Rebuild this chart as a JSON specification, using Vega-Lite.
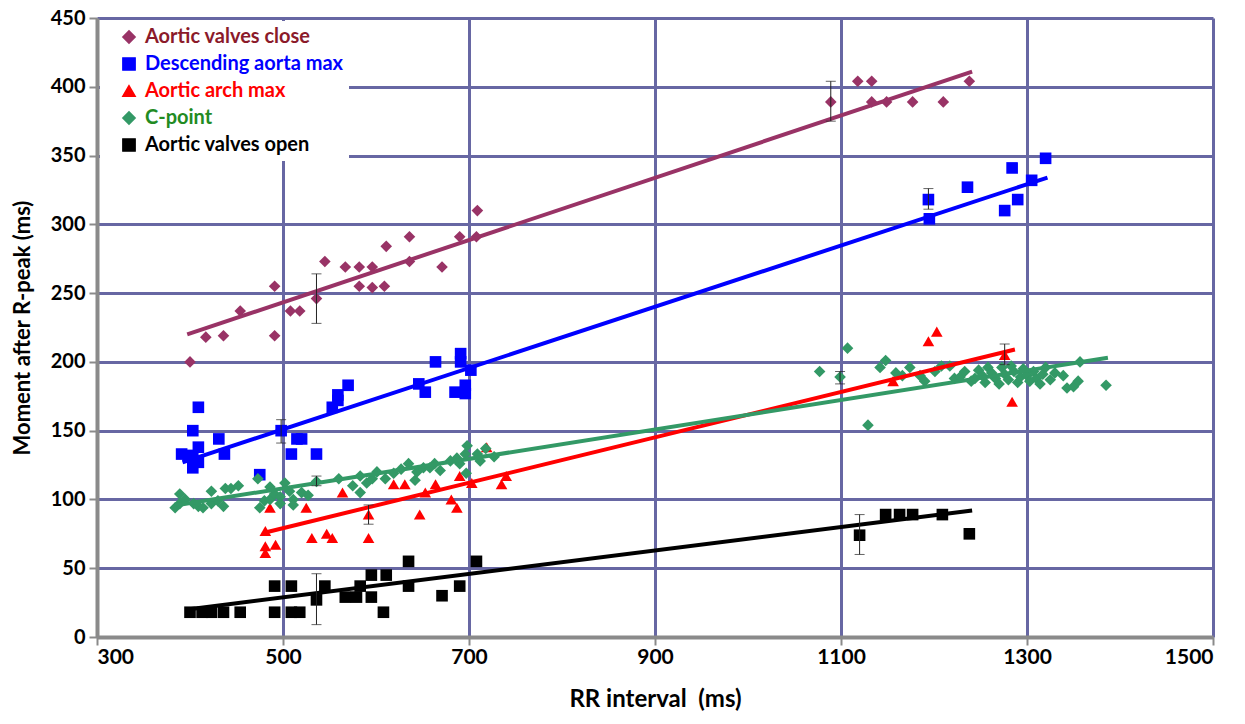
{
  "$schema": "https://vega.github.io/schema/vega-lite/v6.json",
  "width": 1116,
  "height": 619,
  "autosize": {"type": "none"},
  "padding": {"left": 97, "top": 18, "right": 32, "bottom": 87},
  "background": "white",
  "config": {"view": {"stroke": null}},
  "datasets": {
    "pts": [
      {"s":"Aortic valves close","x":400,"y":200},{"s":"Aortic valves close","x":417,"y":218},{"s":"Aortic valves close","x":436,"y":219},{"s":"Aortic valves close","x":454,"y":237},{"s":"Aortic valves close","x":491,"y":255},{"s":"Aortic valves close","x":491,"y":219},{"s":"Aortic valves close","x":508,"y":237},{"s":"Aortic valves close","x":518,"y":237},{"s":"Aortic valves close","x":536,"y":246},{"s":"Aortic valves close","x":545,"y":273},{"s":"Aortic valves close","x":567,"y":269},{"s":"Aortic valves close","x":582,"y":269},{"s":"Aortic valves close","x":582,"y":255},{"s":"Aortic valves close","x":596,"y":269},{"s":"Aortic valves close","x":596,"y":254},{"s":"Aortic valves close","x":609,"y":255},{"s":"Aortic valves close","x":611,"y":284},{"s":"Aortic valves close","x":636,"y":291},{"s":"Aortic valves close","x":636,"y":273},{"s":"Aortic valves close","x":671,"y":269},{"s":"Aortic valves close","x":690,"y":291},{"s":"Aortic valves close","x":708,"y":291},{"s":"Aortic valves close","x":709,"y":310},
      {"s":"Aortic valves close","x":1089,"y":389},{"s":"Aortic valves close","x":1118,"y":404},{"s":"Aortic valves close","x":1133,"y":404},{"s":"Aortic valves close","x":1133,"y":389},{"s":"Aortic valves close","x":1149,"y":389},{"s":"Aortic valves close","x":1177,"y":389},{"s":"Aortic valves close","x":1210,"y":389},{"s":"Aortic valves close","x":1238,"y":404},
      {"s":"Descending aorta max","x":391,"y":133},{"s":"Descending aorta max","x":398,"y":132},{"s":"Descending aorta max","x":403,"y":150},{"s":"Descending aorta max","x":403,"y":130},{"s":"Descending aorta max","x":403,"y":123},{"s":"Descending aorta max","x":409,"y":167},{"s":"Descending aorta max","x":409,"y":138},{"s":"Descending aorta max","x":409,"y":127},{"s":"Descending aorta max","x":431,"y":144},{"s":"Descending aorta max","x":437,"y":133},{"s":"Descending aorta max","x":475,"y":118},{"s":"Descending aorta max","x":498,"y":150},{"s":"Descending aorta max","x":515,"y":144},{"s":"Descending aorta max","x":520,"y":144},{"s":"Descending aorta max","x":509,"y":133},{"s":"Descending aorta max","x":536,"y":133},{"s":"Descending aorta max","x":553,"y":167},{"s":"Descending aorta max","x":559,"y":176},{"s":"Descending aorta max","x":559,"y":172},{"s":"Descending aorta max","x":570,"y":183},{"s":"Descending aorta max","x":646,"y":184},{"s":"Descending aorta max","x":653,"y":178},{"s":"Descending aorta max","x":664,"y":200},{"s":"Descending aorta max","x":685,"y":178},{"s":"Descending aorta max","x":691,"y":206},{"s":"Descending aorta max","x":691,"y":200},{"s":"Descending aorta max","x":696,"y":183},{"s":"Descending aorta max","x":696,"y":177},{"s":"Descending aorta max","x":702,"y":194},
      {"s":"Descending aorta max","x":1194,"y":318},{"s":"Descending aorta max","x":1195,"y":304},{"s":"Descending aorta max","x":1236,"y":327},{"s":"Descending aorta max","x":1276,"y":310},{"s":"Descending aorta max","x":1284,"y":341},{"s":"Descending aorta max","x":1290,"y":318},{"s":"Descending aorta max","x":1305,"y":332},{"s":"Descending aorta max","x":1320,"y":348},
      {"s":"Aortic arch max","x":481,"y":61},{"s":"Aortic arch max","x":481,"y":66},{"s":"Aortic arch max","x":492,"y":67},{"s":"Aortic arch max","x":481,"y":77},{"s":"Aortic arch max","x":486,"y":94},{"s":"Aortic arch max","x":525,"y":94},{"s":"Aortic arch max","x":531,"y":72},{"s":"Aortic arch max","x":547,"y":75},{"s":"Aortic arch max","x":553,"y":72},{"s":"Aortic arch max","x":564,"y":105},{"s":"Aortic arch max","x":592,"y":89},{"s":"Aortic arch max","x":592,"y":72},{"s":"Aortic arch max","x":619,"y":111},{"s":"Aortic arch max","x":631,"y":111},{"s":"Aortic arch max","x":647,"y":89},{"s":"Aortic arch max","x":653,"y":105},{"s":"Aortic arch max","x":664,"y":111},{"s":"Aortic arch max","x":681,"y":100},{"s":"Aortic arch max","x":687,"y":94},{"s":"Aortic arch max","x":690,"y":117},{"s":"Aortic arch max","x":703,"y":112},{"s":"Aortic arch max","x":719,"y":138},{"s":"Aortic arch max","x":735,"y":111},{"s":"Aortic arch max","x":740,"y":117},
      {"s":"Aortic arch max","x":1156,"y":186},{"s":"Aortic arch max","x":1194,"y":215},{"s":"Aortic arch max","x":1203,"y":222},{"s":"Aortic arch max","x":1276,"y":205},{"s":"Aortic arch max","x":1284,"y":171},
      {"s":"C-point","x":384,"y":94},{"s":"C-point","x":389,"y":104},{"s":"C-point","x":389,"y":97},{"s":"C-point","x":395,"y":100},{"s":"C-point","x":404,"y":97},{"s":"C-point","x":409,"y":95},{"s":"C-point","x":414,"y":94},{"s":"C-point","x":423,"y":106},{"s":"C-point","x":423,"y":97},{"s":"C-point","x":430,"y":99},{"s":"C-point","x":436,"y":95},{"s":"C-point","x":438,"y":108},{"s":"C-point","x":444,"y":108},{"s":"C-point","x":452,"y":110},{"s":"C-point","x":473,"y":115},{"s":"C-point","x":475,"y":94},{"s":"C-point","x":480,"y":99},{"s":"C-point","x":486,"y":109},{"s":"C-point","x":486,"y":100},{"s":"C-point","x":491,"y":104},{"s":"C-point","x":497,"y":102},{"s":"C-point","x":497,"y":97},{"s":"C-point","x":502,"y":112},{"s":"C-point","x":507,"y":106},{"s":"C-point","x":511,"y":100},{"s":"C-point","x":511,"y":96},{"s":"C-point","x":520,"y":105},{"s":"C-point","x":527,"y":103},{"s":"C-point","x":536,"y":113},{"s":"C-point","x":560,"y":115},{"s":"C-point","x":575,"y":110},{"s":"C-point","x":583,"y":117},{"s":"C-point","x":583,"y":105},{"s":"C-point","x":590,"y":112},{"s":"C-point","x":596,"y":115},{"s":"C-point","x":601,"y":120},{"s":"C-point","x":610,"y":115},{"s":"C-point","x":619,"y":119},{"s":"C-point","x":627,"y":122},{"s":"C-point","x":635,"y":126},{"s":"C-point","x":642,"y":114},{"s":"C-point","x":644,"y":120},{"s":"C-point","x":651,"y":123},{"s":"C-point","x":658,"y":123},{"s":"C-point","x":663,"y":126},{"s":"C-point","x":669,"y":121},{"s":"C-point","x":680,"y":128},{"s":"C-point","x":687,"y":130},{"s":"C-point","x":690,"y":126},{"s":"C-point","x":696,"y":133},{"s":"C-point","x":697,"y":119},{"s":"C-point","x":698,"y":139},{"s":"C-point","x":709,"y":133},{"s":"C-point","x":712,"y":128},{"s":"C-point","x":718,"y":137},{"s":"C-point","x":727,"y":131},
      {"s":"C-point","x":1077,"y":193},{"s":"C-point","x":1099,"y":189},{"s":"C-point","x":1107,"y":210},{"s":"C-point","x":1129,"y":154},{"s":"C-point","x":1142,"y":196},{"s":"C-point","x":1148,"y":201},{"s":"C-point","x":1159,"y":192},{"s":"C-point","x":1166,"y":190},{"s":"C-point","x":1174,"y":196},{"s":"C-point","x":1185,"y":190},{"s":"C-point","x":1190,"y":186},{"s":"C-point","x":1201,"y":193},{"s":"C-point","x":1208,"y":197},{"s":"C-point","x":1217,"y":197},{"s":"C-point","x":1222,"y":188},{"s":"C-point","x":1228,"y":189},{"s":"C-point","x":1233,"y":193},{"s":"C-point","x":1240,"y":186},{"s":"C-point","x":1244,"y":188},{"s":"C-point","x":1248,"y":194},{"s":"C-point","x":1252,"y":190},{"s":"C-point","x":1255,"y":185},{"s":"C-point","x":1258,"y":196},{"s":"C-point","x":1262,"y":192},{"s":"C-point","x":1266,"y":188},{"s":"C-point","x":1270,"y":184},{"s":"C-point","x":1273,"y":196},{"s":"C-point","x":1276,"y":191},{"s":"C-point","x":1280,"y":187},{"s":"C-point","x":1283,"y":197},{"s":"C-point","x":1286,"y":193},{"s":"C-point","x":1290,"y":185},{"s":"C-point","x":1293,"y":189},{"s":"C-point","x":1296,"y":195},{"s":"C-point","x":1300,"y":190},{"s":"C-point","x":1303,"y":186},{"s":"C-point","x":1307,"y":193},{"s":"C-point","x":1310,"y":188},{"s":"C-point","x":1314,"y":184},{"s":"C-point","x":1317,"y":191},{"s":"C-point","x":1320,"y":196},{"s":"C-point","x":1325,"y":187},{"s":"C-point","x":1330,"y":192},{"s":"C-point","x":1339,"y":190},{"s":"C-point","x":1343,"y":181},{"s":"C-point","x":1350,"y":182},{"s":"C-point","x":1355,"y":186},{"s":"C-point","x":1357,"y":200},{"s":"C-point","x":1385,"y":183},
      {"s":"Aortic valves open","x":400,"y":18},{"s":"Aortic valves open","x":413,"y":18},{"s":"Aortic valves open","x":423,"y":18},{"s":"Aortic valves open","x":436,"y":18},{"s":"Aortic valves open","x":454,"y":18},{"s":"Aortic valves open","x":491,"y":37},{"s":"Aortic valves open","x":509,"y":37},{"s":"Aortic valves open","x":491,"y":18},{"s":"Aortic valves open","x":509,"y":18},{"s":"Aortic valves open","x":518,"y":18},{"s":"Aortic valves open","x":536,"y":27},{"s":"Aortic valves open","x":545,"y":37},{"s":"Aortic valves open","x":567,"y":29},{"s":"Aortic valves open","x":579,"y":29},{"s":"Aortic valves open","x":583,"y":37},{"s":"Aortic valves open","x":595,"y":45},{"s":"Aortic valves open","x":611,"y":45},{"s":"Aortic valves open","x":595,"y":29},{"s":"Aortic valves open","x":608,"y":18},{"s":"Aortic valves open","x":635,"y":55},{"s":"Aortic valves open","x":635,"y":37},{"s":"Aortic valves open","x":671,"y":30},{"s":"Aortic valves open","x":690,"y":37},{"s":"Aortic valves open","x":708,"y":55},
      {"s":"Aortic valves open","x":1120,"y":74},{"s":"Aortic valves open","x":1148,"y":89},{"s":"Aortic valves open","x":1163,"y":89},{"s":"Aortic valves open","x":1177,"y":89},{"s":"Aortic valves open","x":1209,"y":89},{"s":"Aortic valves open","x":1238,"y":75}
    ],
    "trend": [
      {"s":"Aortic valves close","x":397,"y":220},{"s":"Aortic valves close","x":1241,"y":411},
      {"s":"Descending aorta max","x":392,"y":127},{"s":"Descending aorta max","x":1322,"y":334},
      {"s":"Aortic arch max","x":481,"y":76},{"s":"Aortic arch max","x":1287,"y":209},
      {"s":"C-point","x":387,"y":96},{"s":"C-point","x":1387,"y":203},
      {"s":"Aortic valves open","x":397,"y":20},{"s":"Aortic valves open","x":1241,"y":92}
    ],
    "err": [
      {"s":"Aortic valves close","x":536,"lo":228,"hi":264},{"s":"Aortic valves close","x":1089,"lo":375,"hi":404},
      {"s":"Descending aorta max","x":498,"lo":141,"hi":158},{"s":"Descending aorta max","x":1194,"lo":311,"hi":326},
      {"s":"Aortic arch max","x":592,"lo":82,"hi":96},{"s":"Aortic arch max","x":1276,"lo":198,"hi":213},
      {"s":"C-point","x":536,"lo":110,"hi":117},{"s":"C-point","x":1099,"lo":184,"hi":193},
      {"s":"Aortic valves open","x":536,"lo":9,"hi":46},{"s":"Aortic valves open","x":1120,"lo":60,"hi":89}
    ]
  },
  "encoding": {
    "x": {
      "type": "quantitative",
      "scale": {"domain": [300, 1500], "nice": false, "zero": false},
      "axis": {
        "title": "RR interval \u00a0(ms)",
        "values": [300, 500, 700, 900, 1100, 1300, 1500],
        "format": "d",
        "grid": true, "gridColor": "#6767a3", "gridWidth": 3, "gridOpacity": 1,
        "domainColor": "#8a8a8a", "domainWidth": 4,
        "tickColor": "#8a8a8a", "tickWidth": 2, "tickSize": 8,
        "labelFont": "Lato", "labelFontWeight": "bold", "labelFontSize": 21, "labelColor": "black", "labelPadding": 1,
        "titleFont": "Lato", "titleFontWeight": "bold", "titleFontSize": 24, "titleColor": "black", "titlePadding": 20
      }
    },
    "y": {
      "type": "quantitative",
      "scale": {"domain": [0, 450], "nice": false},
      "axis": {
        "title": "Moment after R-peak (ms)",
        "values": [0, 50, 100, 150, 200, 250, 300, 350, 400, 450],
        "format": "d",
        "grid": true, "gridColor": "#6767a3", "gridWidth": 3, "gridOpacity": 1,
        "domainColor": "#8a8a8a", "domainWidth": 4,
        "tickColor": "#8a8a8a", "tickWidth": 2, "tickSize": 8,
        "labelFont": "Lato", "labelFontWeight": "bold", "labelFontSize": 20, "labelColor": "black", "labelPadding": 4,
        "titleFont": "Lato", "titleFontWeight": "bold", "titleFontSize": 22, "titleColor": "black", "titlePadding": 16
      }
    }
  },
  "layer": [
    {
      "data": {"name": "pts"},
      "mark": {"type": "point", "filled": true, "opacity": 1, "size": 135},
      "encoding": {
        "x": {"field": "x"},
        "y": {"field": "y"},
        "color": {
          "field": "s", "type": "nominal",
          "scale": {
            "domain": ["Aortic valves close", "Descending aorta max", "Aortic arch max", "C-point", "Aortic valves open"],
            "range": ["#993366", "#0000ff", "#ff0000", "#339966", "#000000"]
          },
          "legend": {
            "title": null,
            "orient": "none", "legendX": 3, "legendY": 3,
            "fillColor": "white", "padding": 6,
            "symbolOffset": 13, "labelOffset": 6, "rowPadding": 7,
            "symbolSize": 150, "symbolOpacity": 1,
            "labelFont": "Lato", "labelFontWeight": "bold", "labelFontSize": 20, "labelLimit": 400,
            "encode": {
              "labels": {"update": {"fill": {"signal": "datum.value === 'Aortic valves close' ? '#8b1a2a' : datum.value === 'Descending aorta max' ? '#0000ff' : datum.value === 'Aortic arch max' ? '#ff0000' : datum.value === 'C-point' ? '#228b22' : '#000000'"}}}
            }
          }
        },
        "shape": {
          "field": "s", "type": "nominal",
          "scale": {
            "domain": ["Aortic valves close", "Descending aorta max", "Aortic arch max", "C-point", "Aortic valves open"],
            "range": ["diamond", "square", "triangle-up", "diamond", "square"]
          }
        }
      }
    },
    {
      "data": {"name": "trend"},
      "mark": {"type": "line", "strokeWidth": 4, "strokeCap": "butt"},
      "encoding": {
        "x": {"field": "x"},
        "y": {"field": "y"},
        "detail": {"field": "s"},
        "color": {"field": "s", "type": "nominal", "legend": null}
      }
    },
    {
      "data": {"name": "err"},
      "mark": {"type": "rule", "color": "#222222", "strokeWidth": 1},
      "encoding": {
        "x": {"field": "x"},
        "y": {"field": "lo"},
        "y2": {"field": "hi"}
      }
    },
    {
      "data": {"name": "err"},
      "mark": {"type": "tick", "orient": "horizontal", "color": "#222222", "thickness": 1, "size": 10},
      "encoding": {
        "x": {"field": "x"},
        "y": {"field": "lo"}
      }
    },
    {
      "data": {"name": "err"},
      "mark": {"type": "tick", "orient": "horizontal", "color": "#222222", "thickness": 1, "size": 10},
      "encoding": {
        "x": {"field": "x"},
        "y": {"field": "hi"}
      }
    }
  ]
}
